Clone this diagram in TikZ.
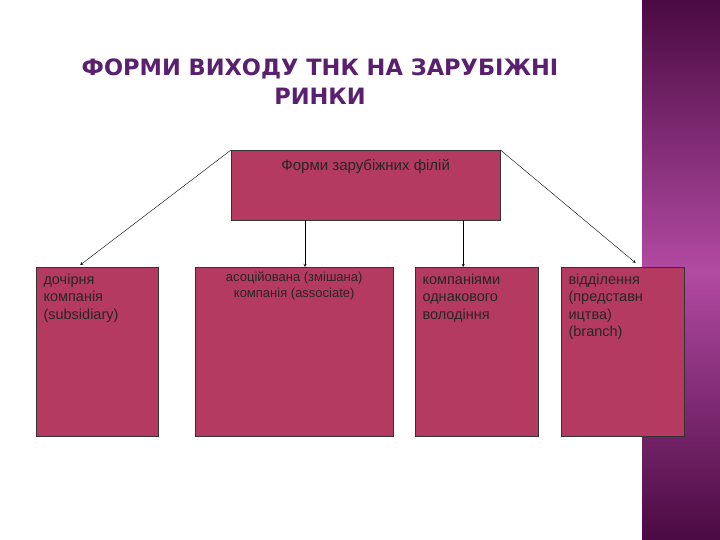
\documentclass[tikz,border=0pt]{standalone}
\usepackage{fontspec}
\setmainfont{Liberation Sans}
\newfontfamily\titlefont{DejaVu Sans}
\usetikzlibrary{calc}
\definecolor{titlepurple}{HTML}{5A1F6E}
\definecolor{boxrose}{HTML}{B53A62}
\definecolor{banddark}{HTML}{4A0A42}
\definecolor{bandlight}{HTML}{B24AA2}
\tikzset{
  formbox/.style={draw=black!80, fill=boxrose, anchor=north west, inner sep=0pt},
  formtext/.style={anchor=north west, align=left, text=black!85, font=\fontsize{14.5}{17.5}\selectfont},
  formarrow/.style={->, >=stealth, thin, black}
}
\begin{document}
\begin{tikzpicture}[x=1pt, y=-1pt]
			%   Canvas and side band
				\useasboundingbox (0,0) rectangle (720,540);
				\fill[white] (0,0) rectangle (720,540);
				\shade[top color=banddark, bottom color=bandlight] (642,0) rectangle (720,270);
				\shade[top color=bandlight, bottom color=banddark] (642,270) rectangle (720,540);
			%   Title
				\node[text=titlepurple, align=center, font=\titlefont\bfseries\fontsize{25}{32}\selectfont, scale=0.9]
				(title) at (320,82) {ФОРМИ ВИХОДУ ТНК НА ЗАРУБІЖНІ\\РИНКИ};
			%   Top box
				\node[formbox, minimum width=269pt, minimum height=70pt] (top) at (231,150) {};
				\node[anchor=north, text=black!85, font=\fontsize{15}{18}\selectfont] (toplabel) at ($(top.north)+(0,6)$) {Форми зарубіжних філій};
			%   Lower boxes
				\node[formbox, minimum width=122pt, minimum height=169pt] (sub) at (36,267) {};
				\node[formbox, minimum width=198pt, minimum height=169pt] (assoc) at (195,267) {};
				\node[formbox, minimum width=123pt, minimum height=169pt] (own) at (415,267) {};
				\node[formbox, minimum width=123pt, minimum height=169pt] (branch) at (561,267) {};
			%   Box texts
				\node[formtext] (subtext) at ($(sub.north west)+(4,3)$) {дочірня\\компанія\\(subsidiary)};
				\node[anchor=north, align=center, text=black!85, font=\fontsize{13}{16}\selectfont] (assoctext) at ($(assoc.north)+(0,1)$) {асоційована (змішана)\\компанія (associate)};
				\node[formtext] (owntext) at ($(own.north west)+(4,3)$) {компаніями\\однакового\\володіння};
				\node[formtext] (branchtext) at ($(branch.north west)+(4,3)$) {відділення\\(представн\\ицтва)\\(branch)};
			%   Arrows
				\coordinate (midA) at ($(top.south west)!0.275!(top.south east)$);
				\coordinate (midB) at ($(top.south west)!0.862!(top.south east)$);
				\draw[formarrow] (top.north west) -- ($(sub.north)+(-17,-2)$);
				\draw[formarrow] (midA) -- (midA |- assoc.north);
				\draw[formarrow] (midB) -- (midB |- own.north);
				\draw[formarrow] (top.north east) -- ($(branch.north)+(13,-4)$);
\end{tikzpicture}
\end{document}
